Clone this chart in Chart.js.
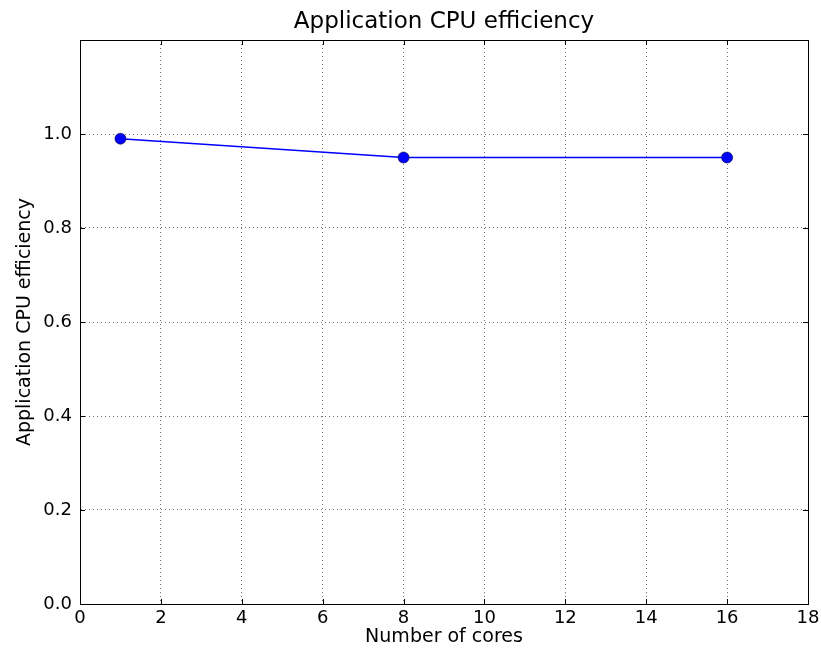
<!DOCTYPE html>
<html><head><meta charset="utf-8">
<script src="https://cdn.jsdelivr.net/npm/chart.js@4/dist/chart.umd.min.js"></script>
<style>html,body{margin:0;padding:0;background:#fff}#wrap{width:821px;height:649px}</style>
</head><body><div id="wrap"><canvas id="c" width="821" height="649"></canvas></div>
<script>
const cores = [1, 8, 16];
const efficiency = [0.99, 0.95, 0.95];
const xTicks = [0, 2, 4, 6, 8, 10, 12, 14, 16, 18];
const yTicks = [0.0, 0.2, 0.4, 0.6, 0.8, 1.0, 1.2];
const titleText = 'Application CPU efficiency';
const xLabel = 'Number of cores';
const yLabel = 'Application CPU efficiency';

const FONT = '"DejaVu Sans", sans-serif';
const points = cores.map((c, i) => ({x: c, y: efficiency[i]}));

const framePlugin = {
  id: 'frame',
  afterDraw(chart) {
    const {ctx, chartArea: a, scales} = chart;
    ctx.save();
    ctx.strokeStyle = '#000';
    ctx.lineWidth = 1;
    ctx.strokeRect(Math.round(a.left) + 0.5, Math.round(a.top) + 0.5, Math.round(a.right - a.left), Math.round(a.bottom - a.top));
    ctx.beginPath();
    xTicks.forEach(v => {
      const x = Math.round(scales.x.getPixelForValue(v)) + 0.5;
      ctx.moveTo(x, a.bottom); ctx.lineTo(x, a.bottom - 5);
      ctx.moveTo(x, a.top); ctx.lineTo(x, a.top + 5);
    });
    yTicks.forEach(v => {
      const y = Math.round(scales.y.getPixelForValue(v)) + 0.5;
      ctx.moveTo(a.left, y); ctx.lineTo(a.left + 5, y);
      ctx.moveTo(a.right, y); ctx.lineTo(a.right - 5, y);
    });
    ctx.stroke();
    ctx.fillStyle = '#000';
    ctx.textAlign = 'center';
    ctx.textBaseline = 'middle';
    ctx.font = '23px ' + FONT;
    ctx.fillText(titleText, (a.left + a.right) / 2, 22);
    ctx.font = '19px ' + FONT;
    ctx.fillText(xLabel, (a.left + a.right) / 2, 637);
    ctx.translate(25, (a.top + a.bottom) / 2);
    ctx.rotate(-Math.PI / 2);
    ctx.fillText(yLabel, 0, 0);
    ctx.restore();
  }
};

new Chart(document.getElementById('c'), {
  type: 'scatter',
  data: {
    datasets: [{
      data: points,
      showLine: true,
      borderColor: '#0000ff',
      borderWidth: 1.5,
      backgroundColor: '#0000ff',
      pointBackgroundColor: '#0000ff',
      pointBorderColor: '#000033',
      pointBorderWidth: 0.6,
      pointRadius: 5.5,
      tension: 0
    }]
  },
  options: {
    responsive: false,
    animation: false,
    layout: {padding: {top: 40, right: 13, left: 0, bottom: 0}},
    plugins: {legend: {display: false}, tooltip: {enabled: false}, title: {display: false}},
    scales: {
      x: {
        type: 'linear', min: 0, max: 18,
        afterFit(s) { s.height = 45; s.paddingLeft = 0; s.paddingRight = 0; },
        afterBuildTicks(s) { s.ticks = xTicks.map(v => ({value: v})); },
        ticks: {color: '#000', font: {family: FONT, size: 18}, padding: 4, maxRotation: 0, callback: v => String(v)},
        grid: {color: 'rgba(0,0,0,0.55)', lineWidth: 1, drawTicks: false},
        border: {display: true, color: '#000', width: 1, dash: [1, 3]}
      },
      y: {
        type: 'linear', min: 0, max: 1.2,
        afterFit(s) { s.width = 80; s.paddingTop = 0; s.paddingBottom = 0; },
        afterBuildTicks(s) { s.ticks = yTicks.map(v => ({value: v})); },
        ticks: {color: '#000', font: {family: FONT, size: 18}, padding: 8, callback: v => v > 1.1 ? '' : v.toFixed(1)},
        grid: {color: 'rgba(0,0,0,0.55)', lineWidth: 1, drawTicks: false},
        border: {display: true, color: '#000', width: 1, dash: [1, 3]}
      }
    }
  },
  plugins: [framePlugin]
});
</script></body></html>
